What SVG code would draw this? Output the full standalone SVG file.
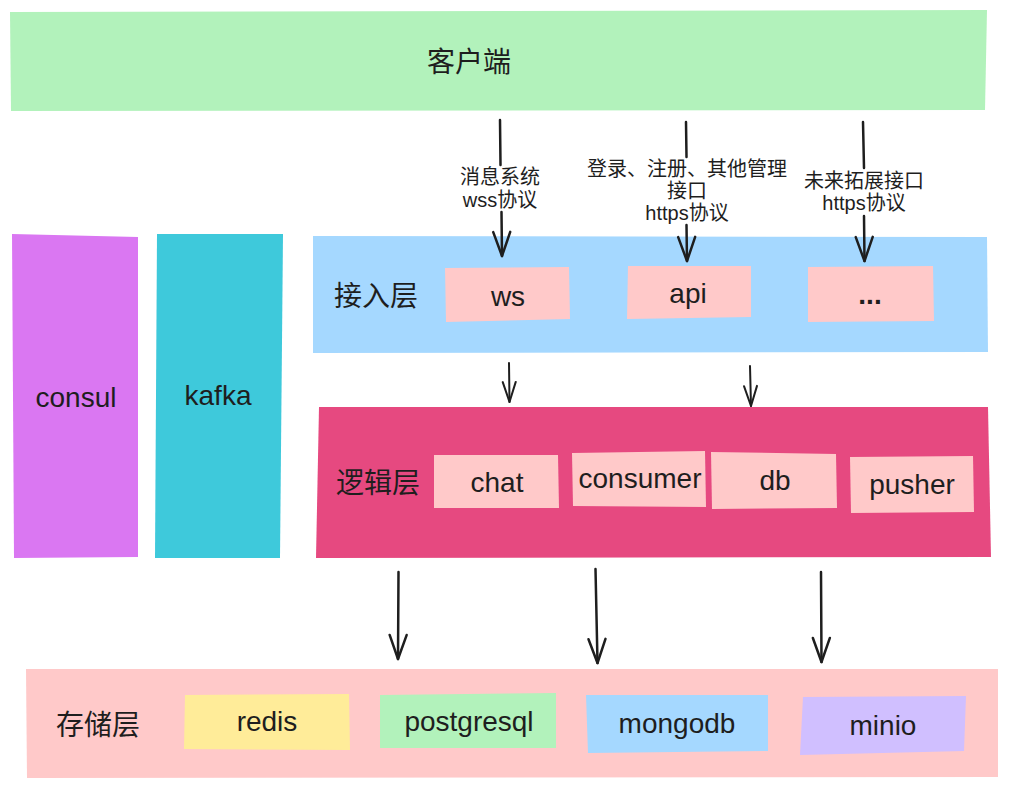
<svg xmlns="http://www.w3.org/2000/svg" width="1010" height="789" viewBox="0 0 1010 789">
<style>
.t{font-family:"Liberation Sans","Noto Sans CJK SC",Arial,sans-serif;font-size:28px;fill:#1e1e1e;text-anchor:middle}
.l{font-family:"Liberation Sans","Noto Sans CJK SC",Arial,sans-serif;font-size:20px;fill:#1e1e1e;text-anchor:middle}
.c{fill:none;stroke:#1e1e1e;stroke-width:2.5;stroke-linecap:round}
.s{stroke-width:2}
</style>
<defs>
<marker id="ah" markerUnits="userSpaceOnUse" orient="auto" markerWidth="30" markerHeight="24" viewBox="-28 -12 30 24" refX="0" refY="0" overflow="visible">
<path d="M-24,-8.5 L0,0 L-24,8.5" fill="none" stroke="#1e1e1e" stroke-width="2.5" stroke-linecap="round" stroke-linejoin="round"/>
</marker>
<marker id="ahs" markerUnits="userSpaceOnUse" orient="auto" markerWidth="26" markerHeight="20" viewBox="-24 -10 26 20" refX="0" refY="0" overflow="visible">
<path d="M-20,-6.5 L0,0 L-20,6.5" fill="none" stroke="#1e1e1e" stroke-width="2" stroke-linecap="round" stroke-linejoin="round"/>
</marker>
</defs>

<g id="client">
<polygon points="10,12 987,10 985,110 11,111" fill="#b2f2bb"/>
<text class="t" x="469" y="72">客户端</text>
</g>

<g id="consul">
<polygon points="12,234 138,237 138,557 14,558" fill="#da77f2"/>
<text class="t" x="76" y="407">consul</text>
</g>

<g id="kafka">
<polygon points="157,234 283,234 280,558 155,558" fill="#3ec9db"/>
<text class="t" x="218" y="405">kafka</text>
</g>

<g id="access-layer">
<polygon points="313,236 987,237 988,352 313,353" fill="#a5d8ff"/>
<text class="t" x="376" y="306">接入层</text>
</g>
<g id="ws">
<polygon points="445,268 569,267 570,319 446,322" fill="#ffc9c9"/>
<text class="t" x="508" y="306">ws</text>
</g>
<g id="api">
<polygon points="628,266 751,266 751,317 627,319" fill="#ffc9c9"/>
<text class="t" x="688" y="303">api</text>
</g>
<g id="more">
<polygon points="808,267 933,266 934,321 808,322" fill="#ffc9c9"/>
<text class="t" x="870" y="304" font-weight="bold">...</text>
</g>

<g id="logic-layer">
<polygon points="319,407 988,407 991,557 316,558" fill="#e64980"/>
<text class="t" x="378" y="493">逻辑层</text>
</g>
<g id="chat">
<polygon points="434,455 558,455 559,508 434,508" fill="#ffc9c9"/>
<text class="t" x="497" y="492">chat</text>
</g>
<g id="consumer">
<polygon points="572,453 705,451 706,507 573,506" fill="#ffc9c9"/>
<text class="t" x="640" y="488">consumer</text>
</g>
<g id="db">
<polygon points="711,452 836,454 837,508 712,509" fill="#ffc9c9"/>
<text class="t" x="775" y="490">db</text>
</g>
<g id="pusher">
<polygon points="850,457 973,456 974,512 851,513" fill="#ffc9c9"/>
<text class="t" x="912" y="494">pusher</text>
</g>

<g id="storage-layer">
<polygon points="26,669 998,669 998,777 27,778" fill="#ffc9c9"/>
<text class="t" x="98" y="735">存储层</text>
</g>
<g id="redis">
<polygon points="185,695 349,694 350,750 184,749" fill="#ffec99"/>
<text class="t" x="267" y="731">redis</text>
</g>
<g id="postgresql">
<polygon points="380,695 556,693 556,748 380,748" fill="#b2f2bb"/>
<text class="t" x="469" y="731">postgresql</text>
</g>
<g id="mongodb">
<polygon points="586,695 768,695 768,751 588,753" fill="#a5d8ff"/>
<text class="t" x="677" y="733">mongodb</text>
</g>
<g id="minio">
<polygon points="803,697 966,696 964,751 800,755" fill="#d0bfff"/>
<text class="t" x="883" y="735">minio</text>
</g>

<g id="connectors">
<path class="c" d="M500,120 L500.5,165"/>
<path class="c" d="M501.5,212 L502,256" marker-end="url(#ah)"/>
<text class="l" x="500" y="184">消息系统</text>
<text class="l" x="500" y="207">wss协议</text>

<path class="c" d="M686,122 L686.5,157"/>
<path class="c" d="M686.5,225 L687,261" marker-end="url(#ah)"/>
<text class="l" x="687" y="176">登录、注册、其他管理</text>
<text class="l" x="687" y="198">接口</text>
<text class="l" x="687" y="220">https协议</text>

<path class="c" d="M863,122 L864,168"/>
<path class="c" d="M864,216 L864.5,261" marker-end="url(#ah)"/>
<text class="l" x="864" y="188">未来拓展接口</text>
<text class="l" x="864" y="210">https协议</text>

<path class="c s" d="M509,363 L509.5,402" marker-end="url(#ahs)"/>
<path class="c s" d="M750,366 L751,406" marker-end="url(#ahs)"/>

<path class="c" d="M398.5,572 L398,659" marker-end="url(#ah)"/>
<path class="c" d="M595.5,569 L597.5,663" marker-end="url(#ah)"/>
<path class="c" d="M821,572 L821.5,662" marker-end="url(#ah)"/>
</g>
</svg>
